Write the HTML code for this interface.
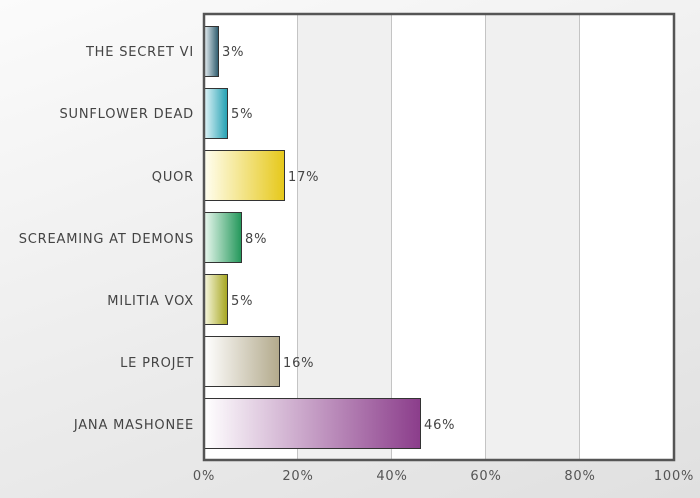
<!DOCTYPE html>
<html><head><meta charset="utf-8"><style>
html,body{margin:0;padding:0}
body{width:700px;height:498px;background:linear-gradient(160deg,#fbfbfb 0%,#ececec 55%,#e0e0e0 100%);font-family:"DejaVu Sans","Liberation Sans",sans-serif;overflow:hidden}
</style></head><body>
<svg width="700" height="498" xmlns="http://www.w3.org/2000/svg" style="position:absolute;left:0;top:0">
<defs>
<linearGradient id="g1"><stop offset="0" stop-color="#e6eef2"/><stop offset="1" stop-color="#2c5a6c"/></linearGradient>
<linearGradient id="g2"><stop offset="0" stop-color="#e0f4f8"/><stop offset="1" stop-color="#22a0b2"/></linearGradient>
<linearGradient id="g3"><stop offset="0" stop-color="#fffef0"/><stop offset="1" stop-color="#e6c81a"/></linearGradient>
<linearGradient id="g4"><stop offset="0" stop-color="#eaf8ef"/><stop offset="1" stop-color="#22975a"/></linearGradient>
<linearGradient id="g5"><stop offset="0" stop-color="#f8f8e0"/><stop offset="1" stop-color="#a5a51e"/></linearGradient>
<linearGradient id="g6"><stop offset="0" stop-color="#ffffff"/><stop offset="1" stop-color="#b3aa8c"/></linearGradient>
<linearGradient id="g7"><stop offset="0" stop-color="#ffffff"/><stop offset="1" stop-color="#8b3d8b"/></linearGradient>
</defs>
<rect x="204" y="14" width="470" height="446" fill="#fff"/>
<rect x="298" y="14" width="94" height="446" fill="#f0f0f0"/>
<rect x="486" y="14" width="94" height="446" fill="#f0f0f0"/>
<g stroke="#c4c4c4" stroke-width="1">
<line x1="297.5" y1="14" x2="297.5" y2="460"/><line x1="391.5" y1="14" x2="391.5" y2="460"/>
<line x1="485.5" y1="14" x2="485.5" y2="460"/><line x1="579.5" y1="14" x2="579.5" y2="460"/>
</g>
<g stroke="#333" stroke-width="1">
<rect x="204.5" y="26.5" width="14" height="50" fill="url(#g1)"/>
<rect x="204.5" y="88.5" width="23" height="50" fill="url(#g2)"/>
<rect x="204.5" y="150.5" width="80" height="50" fill="url(#g3)"/>
<rect x="204.5" y="212.5" width="37" height="50" fill="url(#g4)"/>
<rect x="204.5" y="274.5" width="23" height="50" fill="url(#g5)"/>
<rect x="204.5" y="336.5" width="75" height="50" fill="url(#g6)"/>
<rect x="204.5" y="398.5" width="216" height="50" fill="url(#g7)"/>
</g>
<rect x="204" y="14" width="470" height="446" fill="none" stroke="#555" stroke-width="2.5"/>
<g font-size="13" fill="#444" text-anchor="end" letter-spacing="0.8">
<text x="194" y="56">THE SECRET VI</text>
<text x="194" y="118">SUNFLOWER DEAD</text>
<text x="194" y="181">QUOR</text>
<text x="194" y="243">SCREAMING AT DEMONS</text>
<text x="194" y="305">MILITIA VOX</text>
<text x="194" y="367">LE PROJET</text>
<text x="194" y="429">JANA MASHONEE</text>
</g>
<g font-size="13" fill="#444" letter-spacing="0.8">
<text x="222" y="56">3%</text>
<text x="231" y="118">5%</text>
<text x="288" y="181">17%</text>
<text x="245" y="243">8%</text>
<text x="231" y="305">5%</text>
<text x="283" y="367">16%</text>
<text x="424" y="429">46%</text>
</g>
<g font-size="13" fill="#555" text-anchor="middle" letter-spacing="0.8">
<text x="204" y="480">0%</text><text x="298" y="480">20%</text><text x="392" y="480">40%</text>
<text x="486" y="480">60%</text><text x="580" y="480">80%</text><text x="674" y="480">100%</text>
</g>
</svg>
</body></html>
